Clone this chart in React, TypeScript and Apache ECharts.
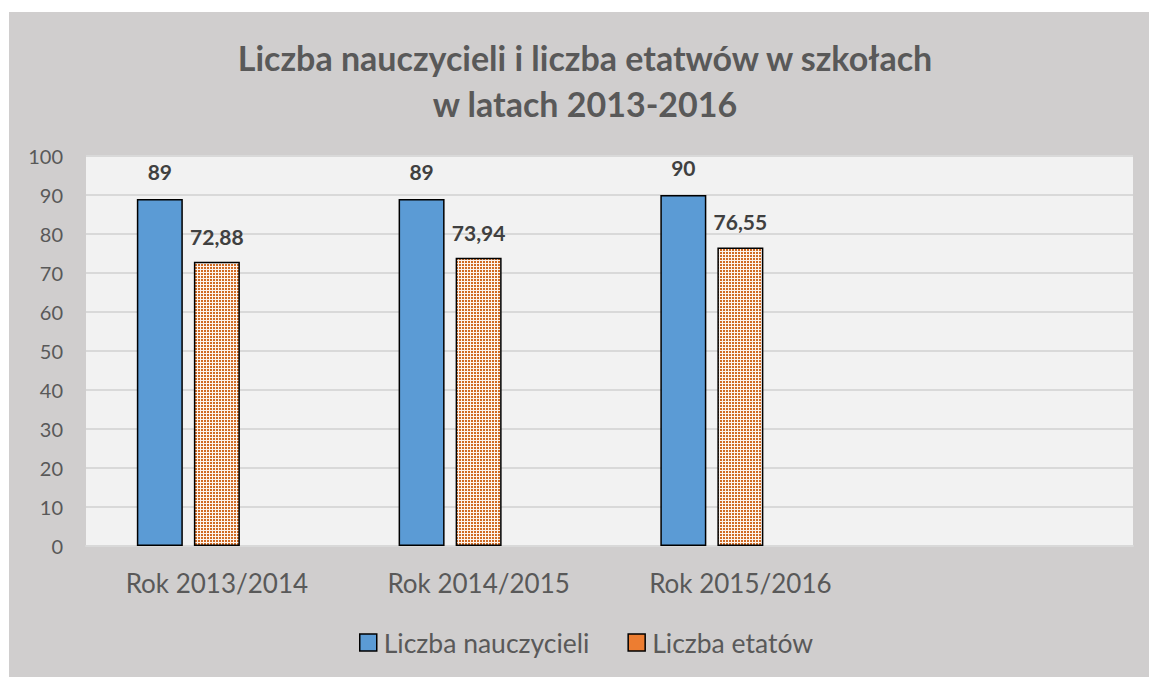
import React, { useEffect, useRef } from "react";
import * as echarts from "echarts";

const titleLines = ["Liczba nauczycieli i liczba etatwów w szkołach", "w latach 2013-2016"];
const categories = ["Rok 2013/2014", "Rok 2014/2015", "Rok 2015/2016", ""];
const seriesNames = ["Liczba nauczycieli", "Liczba etatów"];
const teachers = [89, 89, 90, null];
const posts = [72.88, 73.94, 76.55, null];
const emptySeries = [null, null, null, null];
const yTicks = { min: 0, max: 100, interval: 10 };

function makePattern() {
  const c = document.createElement("canvas");
  c.width = 3;
  c.height = 3;
  const ctx = c.getContext("2d")!;
  ctx.fillStyle = "#fdf3ec";
  ctx.fillRect(0, 0, 3, 3);
  ctx.fillStyle = "#d06a22";
  ctx.fillRect(0, 0, 2, 2);
  return c;
}

export default function App() {
  const ref = useRef<HTMLDivElement>(null);
  useEffect(() => {
    if (!ref.current) return;
    const chart = echarts.init(ref.current, undefined, { renderer: "svg" });
    const font = "Lato";
    const fmt = (v: any) => {
      const n = v.value;
      if (n === null || n === undefined) return "";
      return Number.isInteger(n) ? String(n) : n.toFixed(2).replace(".", ",");
    };
    chart.setOption({
      animation: false,
      backgroundColor: "transparent",
      title: {
        text: titleLines.join("\n"),
        left: 576,
        top: 22,
        padding: 0,
        textAlign: "center",
        textStyle: {
          fontFamily: font,
          fontWeight: "bold",
          fontSize: 34,
          lineHeight: 46,
          color: "#595959",
        },
      },
      grid: {
        left: 77,
        top: 144,
        width: 1047,
        height: 390,
        show: true,
        backgroundColor: "#f2f2f2",
        borderWidth: 0,
        containLabel: false,
      },
      legend: {
        left: 350,
        top: 617,
        padding: 0,
        itemWidth: 17,
        itemHeight: 17,
        itemGap: 38,
        icon: "rect",
        textStyle: { fontFamily: font, fontSize: 26.5, color: "#595959", padding: [0, 0, 0, 2] },
        data: [
          { name: seriesNames[0], itemStyle: { color: "#5b9bd5", borderColor: "#000", borderWidth: 1.5 } },
          { name: seriesNames[1], itemStyle: { color: "#ed7d31", borderColor: "#000", borderWidth: 1.5 } },
        ],
      },
      xAxis: {
        type: "category",
        data: categories,
        axisLine: { show: true, lineStyle: { color: "#d9d9d9", width: 2 } },
        axisTick: { show: false },
        axisLabel: { fontFamily: font, fontSize: 26, color: "#595959", margin: 24 },
      },
      yAxis: {
        type: "value",
        min: yTicks.min,
        max: yTicks.max,
        interval: yTicks.interval,
        axisLine: { show: false },
        axisTick: { show: false },
        splitLine: { lineStyle: { color: "#d9d9d9", width: 2 } },
        axisLabel: { fontFamily: font, fontSize: 20, color: "#595959", margin: 23 },
      },
      series: [
        {
          name: seriesNames[0],
          type: "bar",
          data: teachers,
          barWidth: 46,
          barGap: "24%",
          itemStyle: { color: "#5b9bd5", borderColor: "#000", borderWidth: 1.5 },
          label: {
            show: true,
            position: "top",
            distance: 17,
            formatter: fmt,
            fontFamily: font,
            fontWeight: "bold",
            fontSize: 21,
            color: "#404040",
          },
        },
        {
          name: seriesNames[1],
          type: "bar",
          data: posts,
          barWidth: 46,
          barGap: "24%",
          itemStyle: {
            color: { image: makePattern(), repeat: "repeat" },
            borderColor: "#000",
            borderWidth: 1.5,
          },
          label: {
            show: true,
            position: "top",
            distance: 15,
            formatter: fmt,
            fontFamily: font,
            fontWeight: "bold",
            fontSize: 21,
            color: "#404040",
          },
        },
        {
          name: "pusta",
          type: "bar",
          data: emptySeries,
          barWidth: 46,
          barGap: "24%",
        },
      ],
    });
    return () => chart.dispose();
  }, []);
  return (
    <div style={{ position: "fixed", left: 0, top: 0, width: 1149, height: 677, background: "#fff" }}>
      <div
        style={{ position: "absolute", left: 9, top: 12, width: 1140, height: 665, background: "#d0cece" }}
      >
        <div ref={ref} style={{ width: 1140, height: 665 }} />
      </div>
    </div>
  );
}
